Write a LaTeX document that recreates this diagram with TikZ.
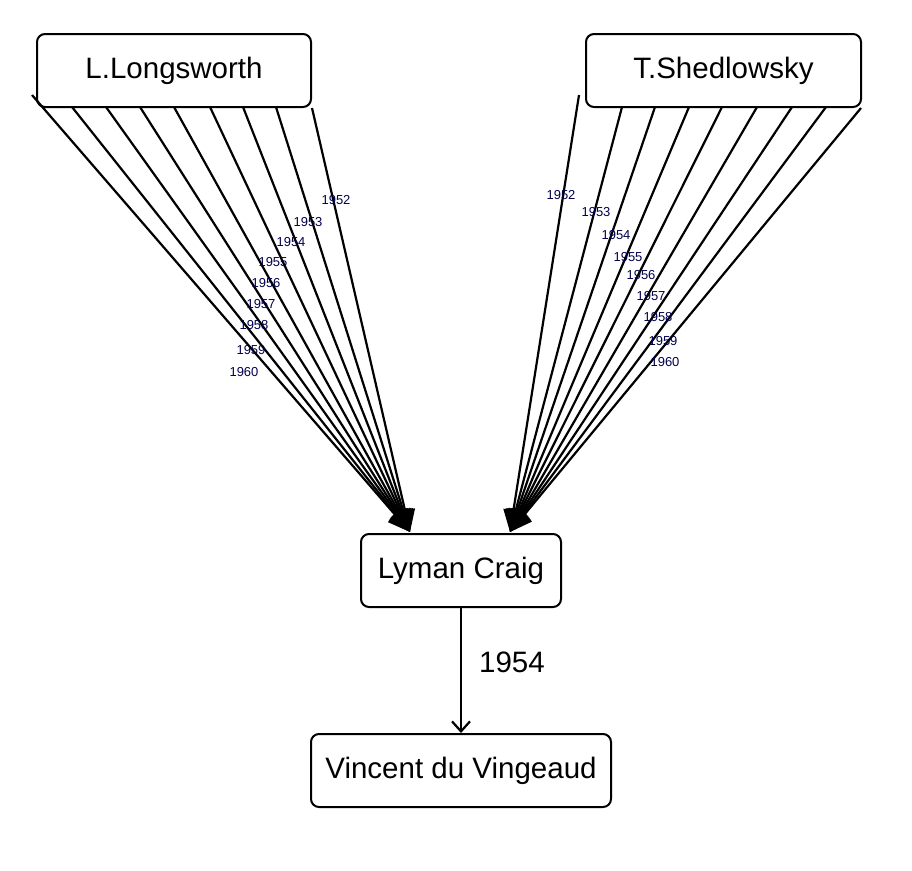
\documentclass[tikz,border=0pt]{standalone}
\usepackage{fontspec}
\setmainfont{Liberation Sans}
\usetikzlibrary{arrows.meta}
\begin{document}
\begin{tikzpicture}[x=1pt,y=-1pt,
  box/.style={draw,rounded corners=8pt,line width=2pt,font=\fontsize{29.5}{32}\selectfont,inner sep=0pt},
  ed/.style={line width=2.2pt,-{Triangle[length=22pt,width=20pt]}},
  yl/.style={font=\fontsize{13}{15}\selectfont,text=blue!30!black,inner sep=0pt}]
\useasboundingbox (0,0) rectangle (912,870);
\node[box,minimum width=274pt,minimum height=73pt] (L) at (174,70.5) {\raisebox{-7pt}{L.Longsworth}};
\node[box,minimum width=275pt,minimum height=73pt] (T) at (723.5,70.5) {\raisebox{-7pt}{T.Shedlowsky}};
\node[box,minimum width=200pt,minimum height=73pt] (C) at (461,570.5) {\raisebox{-7pt}{Lyman Craig}};
\node[box,minimum width=300pt,minimum height=73pt] (V) at (461,770.5) {\raisebox{-7pt}{Vincent du Vingeaud}};
\coordinate (le) at (410,532);
\coordinate (re) at (510,532);
\foreach \x/\y [count=\i] in {32/95,72/107,106/107,140/107,174/107,210/107,243/107,276/107,312/108}
  \draw[ed] (\x,\y) coordinate (ls\i) -- (le);
\foreach \x/\y [count=\i] in {579/95,622/107,655/107,689/107,722/107,757/107,792/107,826/107,861/108}
  \draw[ed] (\x,\y) coordinate (rs\i) -- (re);
\foreach \x/\y/\t [count=\i] in {336/200/1952,308/222/1953,291/242/1954,273/262/1955,266/283/1956,261/304/1957,254/325/1958,251/350/1959,244/372/1960}
  \node[yl] (ll\i) at (\x,\y) {\t};
\foreach \x/\y/\t [count=\i] in {561/195/1952,596/212/1953,616/235/1954,628/257/1955,641/275/1956,651/296/1957,658/317/1958,663/341/1959,665/362/1960}
  \node[yl] (rl\i) at (\x,\y) {\t};
\draw[line width=2.2pt,-{Straight Barb[length=10pt,width=18pt,line width=2.2pt]}] (C) -- (V);
\node[font=\fontsize{29.5}{32}\selectfont,inner sep=0pt] (cl) at (512,662) {1954};
\end{tikzpicture}
\end{document}
